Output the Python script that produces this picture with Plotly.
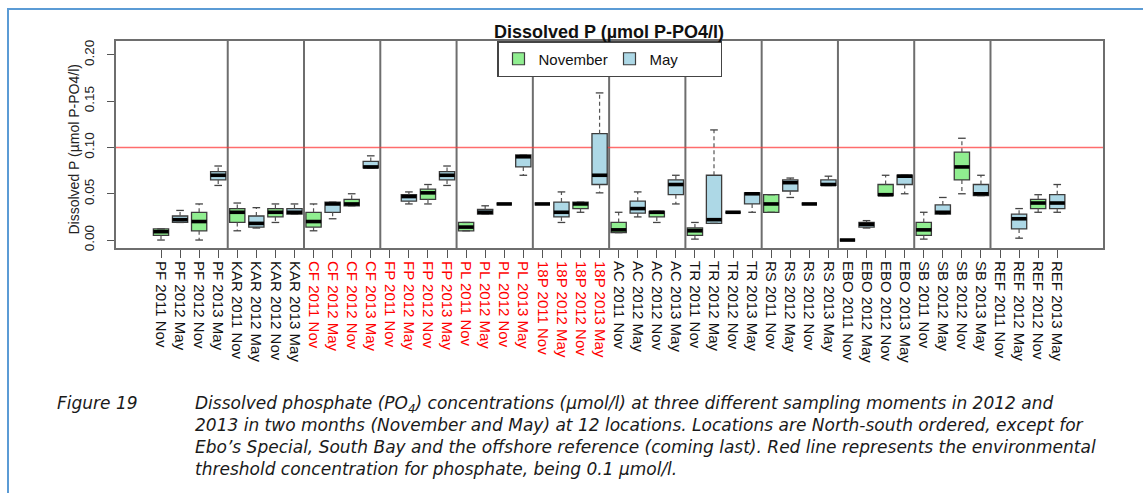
import plotly.graph_objects as go

# ---- data: sampling sites (north-south order) and sampling moments ----
sites = ["PF", "KAR", "CF", "FP", "PL", "18P", "AC", "TR", "RS", "EBO", "SB", "REF"]
moments = ["2011 Nov", "2012 May", "2012 Nov", "2013 May"]
red_sites = ["CF", "FP", "PL", "18P"]
threshold = 0.10
y_ticks = [0.00, 0.05, 0.10, 0.15, 0.20]

# five-number summaries per sample (None = not sampled)
p_min = [0.000, 0.019, 0.000, 0.059, 0.010, 0.013, 0.019, 0.028,
         0.010, 0.023, 0.037, 0.078, None, 0.039, 0.039, 0.059,
         0.010, 0.028, 0.039, 0.070, 0.039, 0.019, 0.030, 0.051,
         0.008, 0.025, 0.019, 0.039, 0.001, 0.018, 0.030, 0.030,
         0.030, 0.046, 0.039, 0.059, 0.000, 0.013, 0.048, 0.050,
         0.001, 0.028, 0.050, 0.048, None, 0.002, 0.030, 0.030]
p_q1 = [0.005, 0.019, 0.010, 0.065, 0.019, 0.014, 0.025, 0.028,
        0.014, 0.030, 0.037, 0.078, None, 0.042, 0.044, 0.065,
        0.010, 0.028, 0.039, 0.079, 0.039, 0.025, 0.034, 0.060,
        0.008, 0.029, 0.025, 0.049, 0.005, 0.018, 0.030, 0.039,
        0.030, 0.053, 0.039, 0.059, 0.000, 0.014, 0.048, 0.060,
        0.005, 0.028, 0.065, 0.048, None, 0.012, 0.034, 0.034]
p_med = [0.009, 0.022, 0.020, 0.070, 0.030, 0.018, 0.030, 0.030,
         0.020, 0.039, 0.039, 0.079, None, 0.047, 0.051, 0.070,
         0.014, 0.030, 0.039, 0.090, 0.039, 0.030, 0.039, 0.070,
         0.011, 0.034, 0.030, 0.060, 0.010, 0.022, 0.030, 0.050,
         0.039, 0.062, 0.039, 0.060, 0.000, 0.017, 0.049, 0.069,
         0.011, 0.030, 0.079, 0.050, None, 0.023, 0.040, 0.040]
p_q3 = [0.012, 0.026, 0.030, 0.074, 0.034, 0.026, 0.034, 0.034,
        0.030, 0.041, 0.044, 0.085, None, 0.049, 0.055, 0.074,
        0.019, 0.033, 0.039, 0.092, 0.039, 0.041, 0.041, 0.115,
        0.019, 0.042, 0.031, 0.065, 0.013, 0.070, 0.030, 0.051,
        0.049, 0.065, 0.039, 0.065, 0.000, 0.019, 0.060, 0.070,
        0.019, 0.038, 0.095, 0.060, None, 0.028, 0.044, 0.049]
p_max = [0.012, 0.032, 0.039, 0.080, 0.040, 0.035, 0.039, 0.039,
         0.039, 0.041, 0.050, 0.091, None, 0.052, 0.060, 0.080,
         0.019, 0.037, 0.039, 0.092, 0.039, 0.052, 0.041, 0.159,
         0.030, 0.052, 0.031, 0.070, 0.019, 0.119, 0.030, 0.051,
         0.049, 0.067, 0.039, 0.069, 0.000, 0.021, 0.070, 0.070,
         0.030, 0.046, 0.110, 0.070, None, 0.034, 0.049, 0.060]

# ---- derived positions / labels ----
labels, months, pos, label_txt = [], [], [], []
for s in sites:
    for m in moments:
        labels.append(f"{s} {m}")
        months.append(m.split()[1])
for i, lab in enumerate(labels):
    pos.append(i + 1)
    site = lab.split()[0]
    if site in red_sites:
        label_txt.append(f'<span style="color:#ff0000">{lab}</span>')
    else:
        label_txt.append(lab)

n_per_site = len(moments)
separators = [k * n_per_site + 0.5 for k in range(1, len(sites))]

colors = {"Nov": "#90ee90", "May": "#add8e6"}
names = {"Nov": "November", "May": "May"}
edge = "#3c3c3c"
box_half = 0.4
cap_half = 0.2

FONT = "Liberation Sans, Arial, sans-serif"

fig = go.Figure()

# dashed whiskers
wx, wy = [], []
for p, lo, a, b, hi in zip(pos, p_min, p_q1, p_q3, p_max):
    if lo is None:
        continue
    wx += [p, p, None, p, p, None]
    wy += [b, hi, None, a, lo, None]
fig.add_trace(go.Scatter(x=wx, y=wy, mode="lines", showlegend=False,
                         hoverinfo="skip",
                         line=dict(color="#555555", width=1.2, dash="4px,3px")))

# whisker caps
cx, cy = [], []
for p, lo, hi in zip(pos, p_min, p_max):
    if lo is None:
        continue
    cx += [p - cap_half, p + cap_half, None, p - cap_half, p + cap_half, None]
    cy += [hi, hi, None, lo, lo, None]
fig.add_trace(go.Scatter(x=cx, y=cy, mode="lines", showlegend=False,
                         hoverinfo="skip",
                         line=dict(color="#444444", width=1.3)))

# boxes per month
for mon in ["Nov", "May"]:
    idx = [i for i, m in enumerate(months) if m == mon and p_q1[i] is not None]
    fig.add_trace(go.Box(
        x=[pos[i] for i in idx],
        q1=[p_q1[i] for i in idx],
        median=[p_med[i] for i in idx],
        q3=[p_q3[i] for i in idx],
        lowerfence=[p_q1[i] for i in idx],
        upperfence=[p_q3[i] for i in idx],
        width=2 * box_half,
        whiskerwidth=0,
        fillcolor=colors[mon],
        line=dict(color=edge, width=1.3),
        showlegend=False,
        hoverinfo="skip",
        boxpoints=False,
    ))

# thick medians
mx, my = [], []
for p, md in zip(pos, p_med):
    if md is None:
        continue
    mx += [p - box_half, p + box_half, None]
    my += [md, md, None]
fig.add_trace(go.Scatter(x=mx, y=my, mode="lines", showlegend=False,
                         hoverinfo="skip",
                         line=dict(color="#000000", width=3.6)))

# legend entries
for mon in ["Nov", "May"]:
    fig.add_trace(go.Scatter(x=[None], y=[None], mode="markers",
                             name=names[mon],
                             marker=dict(symbol="square", size=12,
                                         color=colors[mon],
                                         line=dict(color=edge, width=1.2))))

# site separators and threshold line
for sx in separators:
    fig.add_shape(type="line", xref="x", yref="paper", x0=sx, x1=sx, y0=0, y1=1,
                  line=dict(color="#6e6e6e", width=2), layer="below")
fig.add_shape(type="line", xref="paper", yref="y", x0=0, x1=1,
              y0=threshold, y1=threshold,
              line=dict(color="rgba(255,60,60,0.75)", width=1.6), layer="below")

# page geometry (pixels)
W, H = 1143, 493
L, R, T, B = 116, 1103, 41, 248


def px_x(v):
    return (v - L) / (R - L)


def px_y(v):
    return (B - v) / (B - T)


# document frame
fig.add_shape(type="rect", xref="paper", yref="paper",
              x0=px_x(8), x1=px_x(1160), y0=px_y(9), y1=px_y(520),
              line=dict(color="#5b9bd5", width=2), fillcolor="rgba(0,0,0,0)")

# titles
fig.add_annotation(xref="paper", yref="paper", x=px_x(609), y=px_y(32),
                   text="<b>Dissolved P (µmol P-PO4/l)</b>", showarrow=False,
                   xanchor="center", yanchor="middle",
                   font=dict(family=FONT, size=18, color="#111111"))
fig.add_annotation(xref="paper", yref="paper", x=px_x(73.5), y=px_y(150),
                   text="Dissolved P (µmol P-PO4/l)", showarrow=False,
                   textangle=-90, xanchor="center", yanchor="middle",
                   font=dict(family=FONT, size=14, color="#222222"))

# caption
caption = ("Dissolved phosphate (PO<sub>4</sub>) concentrations (µmol/l) at three different sampling moments in 2012 and<br>"
           "2013 in two months (November and May) at 12 locations. Locations are North-south ordered, except for<br>"
           "Ebo’s Special, South Bay and the offshore reference (coming last). Red line represents the environmental<br>"
           "threshold concentration for phosphate, being 0.1 µmol/l.")
cap_font = dict(family="DejaVu Sans", size=17, color="#1a1a1a")
fig.add_annotation(xref="paper", yref="paper", x=px_x(55), y=px_y(391),
                   text="<i>Figure 19</i>", showarrow=False,
                   xanchor="left", yanchor="top", align="left", font=cap_font)
fig.add_annotation(xref="paper", yref="paper", x=px_x(193), y=px_y(391),
                   text=f"<i>{caption}</i>", showarrow=False,
                   xanchor="left", yanchor="top", align="left", font=cap_font)

fig.update_layout(
    width=W, height=H,
    margin=dict(l=L, r=W - R, t=T, b=H - B, pad=0),
    paper_bgcolor="white", plot_bgcolor="white",
    font=dict(family=FONT, color="#111111"),
    showlegend=True,
    legend=dict(orientation="h", x=0.5, xanchor="center", y=1, yanchor="top",
                entrywidth=66, entrywidthmode="pixels",
                bgcolor="white", bordercolor="#444444", borderwidth=1.5,
                font=dict(family=FONT, size=15, color="#111111")),
    boxmode="overlay",
)

fig.update_xaxes(range=[-1.36, 50.40], tickmode="array", tickvals=pos,
                 ticktext=label_txt, tickangle=90, ticks="outside", ticklen=8,
                 tickcolor="#555555", tickwidth=1.2,
                 tickfont=dict(family=FONT, size=15, color="#111111"),
                 showline=True, mirror=True, linecolor="#6e6e6e", linewidth=2,
                 showgrid=False, zeroline=False)
fig.update_yaxes(range=[-0.0086, 0.2151], tickmode="array", tickvals=y_ticks,
                 ticktext=[f"{v:.2f}" for v in y_ticks], tickangle=-90,
                 ticks="outside", ticklen=7, tickcolor="#555555", tickwidth=1.2,
                 ticklabelstandoff=8,
                 tickfont=dict(family=FONT, size=13.5, color="#222222"),
                 showline=True, mirror=True, linecolor="#6e6e6e", linewidth=2,
                 showgrid=False, zeroline=False)

fig.write_html("out.html")
